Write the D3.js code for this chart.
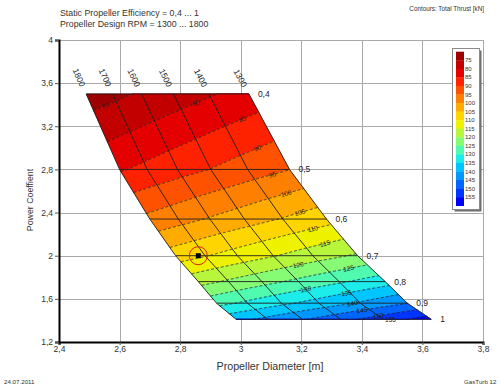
<!DOCTYPE html>
<html>
<head>
<meta charset="utf-8">
<script src="https://cdn.jsdelivr.net/npm/d3@7"></script>
<style>
  body { margin: 0; background: #fff; }
  svg { display: block; font-family: "Liberation Sans", Arial, sans-serif; }
</style>
</head>
<body>
<div id="chart"></div>
<script>
// static propeller efficiency rows (top -> bottom) and design rpm columns (left -> right)
const efficiency = [0.4, 0.5, 0.6, 0.7, 0.8, 0.9, 1.0];
const effLabels = ['0,4', '0,5', '0,6', '0,7', '0,8', '0,9', '1'];
const rpm = [1800, 1700, 1600, 1500, 1400, 1300];
const powerCoeff = [3.5, 2.8, 2.34, 2.0, 1.76, 1.56, 1.41];

// propeller diameter [m] per efficiency row / rpm column
const diameter = [
  [2.490, 2.577, 2.673, 2.778, 2.895, 3.027],
  [2.600, 2.691, 2.791, 2.901, 3.023, 3.161],
  [2.700, 2.794, 2.898, 3.012, 3.139, 3.283],
  [2.785, 2.882, 2.989, 3.107, 3.238, 3.386],
  [2.860, 2.960, 3.070, 3.191, 3.325, 3.477],
  [2.920, 3.022, 3.134, 3.258, 3.395, 3.550],
  [2.985, 3.089, 3.204, 3.330, 3.471, 3.629]
];

// total thrust [kN] at the same grid nodes
const thrust = [
  [72.3, 73.8, 75.5, 77.4, 79.5, 81.8],
  [84.5, 86.2, 88.1, 90.1, 92.4, 94.9],
  [96.3, 98.2, 100.4, 102.7, 105.3, 108.1],
  [107.5, 109.7, 112.1, 114.7, 117.6, 120.7],
  [118.2, 120.7, 123.3, 126.2, 129.3, 132.8],
  [128.4, 131.0, 133.9, 137.0, 140.6, 144.8],
  [138.5, 141.3, 144.6, 148.3, 152.6, 157.5]
];

const thrustLevels = [75, 80, 85, 90, 95, 100, 105, 110, 115, 120, 125, 130, 135, 140, 145, 150, 155];
const bandColors = ['#9c0000', '#c20000', '#e40000', '#ff2200', '#ff5200', '#ff8000', '#ffab00',
  '#ffd500', '#eef200', '#b8f63c', '#86fb74', '#50fbb0', '#1cecea', '#00c6ff', '#0098ff',
  '#0066ff', '#0034ff', '#0000f6'];
// rpm-column position (0 = 1800 ... 5 = 1300) where each contour carries its label
const labelCols = [0.5, 3.5, 4.5, 4.5, 4.5, 4.5, 4.5, 4.5, 4.5, 3.4, 4.5, 3.0, 3.9, 3.8, 3.8, 4.0, 4.15];

const designPoint = { d: 2.86, cp: 2.0 };
const xTicks = [2.4, 2.6, 2.8, 3.0, 3.2, 3.4, 3.6, 3.8];
const yTicks = [1.2, 1.6, 2.0, 2.4, 2.8, 3.2, 3.6, 4.0];

const W = 501, H = 389;
const plotL = 59, plotR = 483, plotT = 40, plotB = 342;

const svg = d3.select('#chart').append('svg')
  .attr('width', W)
  .attr('height', H);

const x = d3.scaleLinear().domain([2.4, 3.8]).range([plotL, plotR]);
const y = d3.scaleLinear().domain([1.2, 4]).range([plotB, plotT]);
const fmt = d3.formatLocale({ decimal: ',', thousands: '.', grouping: [3], currency: ['', ''] }).format('~g');

// grid
const grid = svg.append('g').attr('stroke', '#a9a9a9').attr('stroke-width', 1);
grid.selectAll('.gx').data(xTicks).join('line')
  .attr('x1', d => Math.round(x(d)) + 0.5).attr('x2', d => Math.round(x(d)) + 0.5)
  .attr('y1', plotT).attr('y2', plotB);
grid.selectAll('.gy').data(yTicks).join('line')
  .attr('x1', plotL).attr('x2', plotR)
  .attr('y1', d => Math.round(y(d)) + 0.5).attr('y2', d => Math.round(y(d)) + 0.5);

// helpers on the efficiency / rpm parameter grid
const umax = rpm.length - 1, vmax = efficiency.length - 1;
const lerp = (a, b, t) => a + (b - a) * t;
function bilinear(table, u, v) {
  const j = Math.min(Math.floor(u), umax - 1), i = Math.min(Math.floor(v), vmax - 1);
  const fu = u - j, fv = v - i;
  return lerp(lerp(table[i][j], table[i][j + 1], fu), lerp(table[i + 1][j], table[i + 1][j + 1], fu), fv);
}
function toPixel(u, v) {
  const i = Math.min(Math.floor(v), vmax - 1);
  return [x(bilinear(diameter, u, v)), y(lerp(powerCoeff[i], powerCoeff[i + 1], v - i))];
}
function solveV(u, level) {
  if (bilinear(thrust, u, 0) >= level) return 0;
  if (bilinear(thrust, u, vmax) <= level) return vmax;
  let lo = 0, hi = vmax;
  for (let k = 0; k < 40; k++) {
    const mid = (lo + hi) / 2;
    if (bilinear(thrust, u, mid) < level) lo = mid; else hi = mid;
  }
  return (lo + hi) / 2;
}
const us = d3.range(0, 401).map(k => k / 400 * umax);
const line = d3.line();

// filled thrust bands
const bands = svg.append('g');
bandColors.forEach((c, b) => {
  const lo = b === 0 ? null : thrustLevels[b - 1];
  const hi = b === bandColors.length - 1 ? null : thrustLevels[b];
  const upper = us.map(u => toPixel(u, lo == null ? 0 : solveV(u, lo)));
  const lower = us.map(u => toPixel(u, hi == null ? vmax : solveV(u, hi))).reverse();
  bands.append('path')
    .attr('d', line(upper.concat(lower)) + 'Z')
    .attr('fill', c)
    .attr('stroke', c)
    .attr('stroke-width', 0.6);
});

// dashed contour lines
const contours = svg.append('g')
  .attr('fill', 'none').attr('stroke', '#1a1a1a').attr('stroke-width', 0.8).attr('stroke-dasharray', '3,2');
thrustLevels.forEach(level => {
  const vs = us.map(u => solveV(u, level));
  const pts = [];
  vs.forEach((v, k) => {
    const inside = v > 0 && v < vmax;
    const near = (k > 0 && vs[k - 1] > 0 && vs[k - 1] < vmax) || (k < vs.length - 1 && vs[k + 1] > 0 && vs[k + 1] < vmax);
    if (inside || near) pts.push(toPixel(us[k], v));
  });
  if (pts.length > 1) contours.append('path').attr('d', line(pts));
});

// solid efficiency and rpm lines
const mesh = svg.append('g').attr('fill', 'none').attr('stroke', '#1e1e1e').attr('stroke-width', 0.9);
efficiency.forEach((e, i) => {
  mesh.append('path').attr('d', line(rpm.map((r, j) => [x(diameter[i][j]), y(powerCoeff[i])])));
});
rpm.forEach((r, j) => {
  mesh.append('path').attr('d', line(efficiency.map((e, i) => [x(diameter[i][j]), y(powerCoeff[i])])));
});

// contour labels
const clabels = svg.append('g').attr('font-size', 6.5).attr('fill', '#222').attr('text-anchor', 'middle');
thrustLevels.forEach((level, k) => {
  const u = labelCols[k];
  const p = toPixel(u, solveV(u, level));
  const p0 = toPixel(u - 0.15, solveV(u - 0.15, level));
  const p1 = toPixel(u + 0.15, solveV(u + 0.15, level));
  const ang = Math.atan2(p1[1] - p0[1], p1[0] - p0[0]) * 180 / Math.PI;
  clabels.append('text')
    .attr('transform', `translate(${p[0]},${p[1]}) rotate(${ang})`)
    .attr('dy', '0.35em')
    .text(level);
});

// efficiency labels at the right edge
svg.append('g').attr('font-size', 8.5).attr('fill', '#222')
  .selectAll('text').data(efficiency).join('text')
  .attr('x', (d, i) => x(diameter[i][umax]) + 9)
  .attr('y', (d, i) => y(powerCoeff[i]))
  .attr('dy', '0.35em')
  .text((d, i) => effLabels[i]);

// rpm labels above the top edge, along each rpm line
const rl = svg.append('g').attr('font-size', 8.5).attr('fill', '#222').attr('text-anchor', 'middle');
rpm.forEach((r, j) => {
  const ax = x(diameter[0][j]), ay = y(powerCoeff[0]);
  const bx = x(diameter[1][j]), by = y(powerCoeff[1]);
  const len = Math.hypot(bx - ax, by - ay);
  const dx = (bx - ax) / len, dy = (by - ay) / len;
  const ang = Math.atan2(dy, dx) * 180 / Math.PI;
  rl.append('text')
    .attr('transform', `translate(${ax - dx * 18},${ay - dy * 18}) rotate(${ang})`)
    .attr('dy', '0.35em')
    .text(r);
});

// design point marker
svg.append('circle')
  .attr('cx', x(designPoint.d)).attr('cy', y(designPoint.cp)).attr('r', 9)
  .attr('fill', 'none').attr('stroke', '#d82020').attr('stroke-width', 1);
svg.append('rect')
  .attr('x', x(designPoint.d) - 2.5).attr('y', y(designPoint.cp) - 2.5)
  .attr('width', 5).attr('height', 5).attr('fill', '#000');

// axes
const xAxis = svg.append('g')
  .attr('transform', `translate(0,${plotB})`)
  .call(d3.axisBottom(x).tickValues(xTicks).tickFormat(fmt).tickSize(3).tickPadding(1));
const yAxis = svg.append('g')
  .attr('transform', `translate(${plotL},0)`)
  .call(d3.axisLeft(y).tickValues(yTicks).tickFormat(fmt).tickSize(4).tickPadding(2));
[xAxis, yAxis].forEach(a => {
  a.select('.domain').attr('stroke', '#000').attr('stroke-width', 2);
  a.selectAll('.tick line').attr('stroke', '#555');
  a.selectAll('.tick text').attr('font-size', 8.5).attr('fill', '#333').attr('font-family', null);
});

// legend
const lg = svg.append('g');
lg.append('rect').attr('x', 454.5).attr('y', 50.5).attr('width', 27).attr('height', 161).attr('fill', '#6e6e6e');
lg.append('rect').attr('x', 452.5).attr('y', 48.5).attr('width', 27).attr('height', 161)
  .attr('fill', '#fff').attr('stroke', '#8a8a8a');
const segH = 154 / bandColors.length;
lg.selectAll('.seg').data(bandColors).join('rect')
  .attr('x', 456).attr('y', (d, i) => 51.7 + i * segH)
  .attr('width', 8).attr('height', segH + 0.3)
  .attr('fill', d => d);
lg.selectAll('.lab').data(thrustLevels).join('text')
  .attr('x', 465).attr('y', (d, i) => 51.7 + (i + 1) * segH)
  .attr('dy', '0.35em')
  .attr('font-size', 6).attr('fill', '#333')
  .text(d => d);

// texts
svg.append('text').attr('x', 60).attr('y', 16).attr('font-size', 8.8).attr('fill', '#333')
  .text('Static Propeller Efficiency = 0,4 ... 1');
svg.append('text').attr('x', 60).attr('y', 27).attr('font-size', 8.8).attr('fill', '#333')
  .text('Propeller Design RPM = 1300 ... 1800');
svg.append('text').attr('x', 484).attr('y', 11).attr('font-size', 6.3).attr('fill', '#333')
  .attr('text-anchor', 'end').text('Contours: Total Thrust [kN]');
svg.append('text').attr('x', 270).attr('y', 370).attr('font-size', 10.7).attr('fill', '#333')
  .attr('text-anchor', 'middle').text('Propeller Diameter [m]');
svg.append('text').attr('transform', 'translate(33,200) rotate(-90)').attr('font-size', 8.8).attr('fill', '#333')
  .attr('text-anchor', 'middle').text('Power Coeffient');
svg.append('text').attr('x', 4).attr('y', 384).attr('font-size', 6.2).attr('fill', '#333')
  .text('24.07.2011');
svg.append('text').attr('x', 464).attr('y', 384).attr('font-size', 6.2).attr('fill', '#333')
  .text('GasTurb 12');
</script>
</body>
</html>
